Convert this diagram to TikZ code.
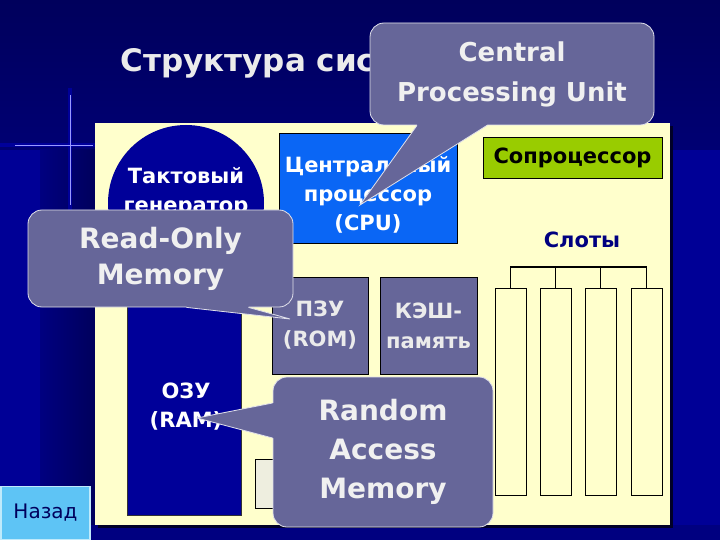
\documentclass[tikz,border=0pt]{standalone}
\usepackage{fontspec}
\setmainfont{DejaVu Sans}
\usetikzlibrary{positioning,calc}
\definecolor{slidedeep}{HTML}{00005C}
\definecolor{slidenavy}{HTML}{000080}
\definecolor{slideblue}{HTML}{000096}
\definecolor{boardcream}{HTML}{FFFFCC}
\definecolor{chipnavy}{HTML}{000099}
\definecolor{cpublue}{HTML}{0A66F5}
\definecolor{notegrey}{HTML}{666699}
\definecolor{copgreen}{HTML}{99CC00}
\definecolor{backcyan}{HTML}{5EC4F5}
\definecolor{portfill}{HTML}{EEEEDF}

\begin{document}
\begin{tikzpicture}[x=1pt,y=-1pt,
  chipbox/.style={draw=black,line width=0.8pt,inner sep=0pt,align=center,
    font=\bfseries\fontsize{21}{30}\selectfont},
  lbl/.style={align=center,inner sep=0pt,font=\bfseries\fontsize{21}{29}\selectfont},
  note/.style={fill=notegrey,draw=white!80!notegrey,line width=0.8pt,rounded corners=14pt,
    inner sep=0pt,align=center,text=white!94!black,font=\bfseries\fontsize{28}{39}\selectfont},
  tailedge/.style={draw=white!80!notegrey,line width=0.8pt}]
  \useasboundingbox (0,0) rectangle (720,540);
  \fill[slideblue] (0,0) rectangle (720,540);
  \shade[top color=slidedeep,bottom color=slidedeep!60!slideblue] (0,0) rectangle (720,150);
  \shade[left color=slidenavy,right color=slidedeep] (40,150) rectangle (95,540);
  \fill[slidenavy] (0,525) rectangle (720,540);
  \draw[line width=4pt,blue!55!slidedeep,opacity=0.6] (0,145) -- (95,145);
  \draw[line width=4pt,blue!55!slidedeep,opacity=0.6] (70,88) -- (70,210);
  \draw[line width=0.8pt,white!60!blue] (15,145) -- (93,145);
  \draw[line width=0.8pt,white!60!blue] (70,95) -- (70,205);

  \node[anchor=base west,text=white!92!black,font=\bfseries\fontsize{31}{36}\selectfont]
        (title) at (117,72) {Структура сис};

  \fill[black!70!slidenavy] (98,126) rectangle (673,528);
  \node[fill=boardcream,minimum width=575pt,minimum height=402pt,inner sep=0pt]
        (board) at (382.5,324) {};

  \node[fill=chipnavy,draw=black!80,line width=0.6pt,minimum width=114pt,minimum height=265pt,
        anchor=north west,inner sep=0pt] (ram) at (127,250) {};
  \node[circle,fill=chipnavy,minimum size=156pt,inner sep=0pt] (clock) at (186,203) {};
  \node[lbl,text=white] (clockLbl) at (186,192) {Тактовый\\генератор};
  \node[lbl,text=white] (ramLbl) at (186,407) {ОЗУ\\(RAM)};

  \node[chipbox,fill=cpublue,minimum width=178pt,minimum height=110pt] (cpu) at (368,188) {};
  \node[lbl,text=white] (cpuLbl) at (368,195) {Центральный\\процессор\\(CPU)};
  \node[chipbox,fill=notegrey,text=white!92!black,minimum width=96pt,minimum height=97pt]
        (rom) at (320,325.5) {ПЗУ\\(ROM)};
  \node[chipbox,fill=notegrey,text=white!92!black,minimum width=97pt,minimum height=97pt]
        (cache) at (428.5,325.5) {КЭШ-\\память};
  \node[chipbox,fill=copgreen,text=black,minimum width=179pt,minimum height=41pt]
        (cop) at (572.5,157.5) {Сопроцессор};
  \node[lbl,text=slidenavy] (slotLbl) at (582,240) {Слоты};
  \node[draw=black,fill=portfill,line width=0.6pt,minimum width=45pt,minimum height=49pt,
        anchor=north west,inner sep=0pt] (port) at (255,459) {};

  \foreach \i/\x in {1/495,2/540,3/585,4/631}
    \node[draw=black,fill=boardcream,line width=0.6pt,minimum width=31pt,minimum height=207pt,
          anchor=north west,inner sep=0pt] (slot\i) at (\x,288) {};
  \draw[line width=1.2pt] (slot1.north) -- ++(0,-21) -| (slot4.north);
  \foreach \i in {2,3}
    \draw[line width=1.2pt] (slot\i.north) -- ++(0,-21);

  \node[note,minimum width=284pt,minimum height=102pt,font=\bfseries\fontsize{26}{40}\selectfont]
        (cpuNote) at (512,74) {Central\\Processing Unit};
  \coordinate (cpuTip) at (360,205);
  \fill[notegrey] ($(cpuNote.south)+(-95,-4)$) -- ($(cpuNote.south)+(-95,0)$) -- (cpuTip)
        -- ($(cpuNote.south)+(-25,0)$) -- ($(cpuNote.south)+(-25,-4)$) -- cycle;
  \draw[tailedge] ($(cpuNote.south)+(-95,0)$) -- (cpuTip) -- ($(cpuNote.south)+(-25,0)$);

  \node[note,minimum width=265pt,minimum height=97pt,font=\bfseries\fontsize{28}{36}\selectfont]
        (romNote) at (160.5,258.5) {Read-Only\\Memory};
  \coordinate (romTip) at (290,319);
  \fill[notegrey] ($(romNote.south)+(26,-4)$) -- ($(romNote.south)+(26,0)$) -- (romTip)
        -- ($(romNote.south)+(88,0)$) -- ($(romNote.south)+(88,-4)$) -- cycle;
  \draw[tailedge] ($(romNote.south)+(26,0)$) -- (romTip) -- ($(romNote.south)+(88,0)$);

  \node[note,minimum width=220pt,minimum height=150pt] (ramNote) at (383,452)
        {Random\\Access\\Memory};
  \coordinate (ramTip) at (197,418);
  \fill[notegrey] ($(ramNote.west)+(4,-49)$) -- ($(ramNote.west)+(0,-49)$) -- (ramTip)
        -- ($(ramNote.west)+(0,-14)$) -- ($(ramNote.west)+(4,-14)$) -- cycle;
  \draw[tailedge] ($(ramNote.west)+(0,-49)$) -- (ramTip) -- ($(ramNote.west)+(0,-14)$);

  \node[fill=backcyan,draw=cyan!25!white,line width=1.5pt,minimum width=89pt,minimum height=53pt,
        text=slidedeep,font=\fontsize{20}{24}\selectfont] (back) at (45.5,513) {Назад};
\end{tikzpicture}
\end{document}
